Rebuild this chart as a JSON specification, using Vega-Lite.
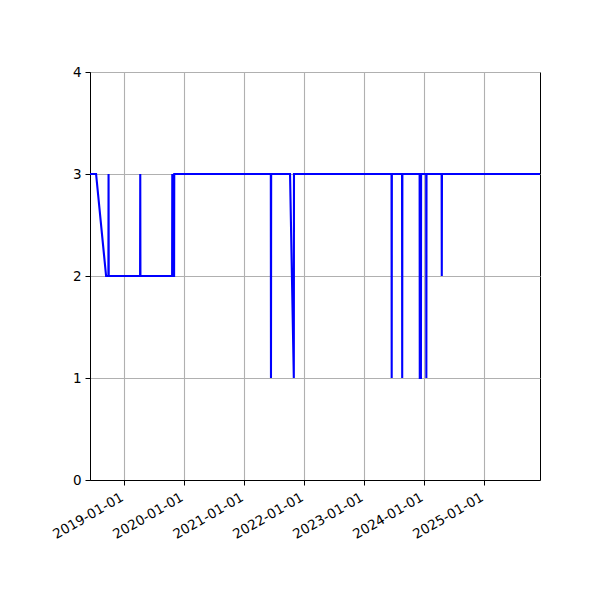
{
  "$schema": "https://vega.github.io/schema/vega-lite/v6.json",
  "autosize": "none",
  "padding": {"left": 90, "top": 72, "right": 60, "bottom": 120},
  "width": 450,
  "height": 408,
  "background": "white",
  "data": {
    "values": [
      {"date": "2018-06-06", "value": 3},
      {"date": "2018-07-13", "value": 3},
      {"date": "2018-09-12", "value": 2},
      {"date": "2018-09-26", "value": 2},
      {"date": "2018-09-27", "value": 3},
      {"date": "2018-09-28", "value": 2},
      {"date": "2019-04-07", "value": 2},
      {"date": "2019-04-08", "value": 3},
      {"date": "2019-04-09", "value": 2},
      {"date": "2019-10-19", "value": 2},
      {"date": "2019-10-20", "value": 3},
      {"date": "2019-10-21", "value": 2},
      {"date": "2019-10-31", "value": 2},
      {"date": "2019-11-01", "value": 3},
      {"date": "2021-06-11", "value": 3},
      {"date": "2021-06-12", "value": 1},
      {"date": "2021-06-13", "value": 3},
      {"date": "2021-10-06", "value": 3},
      {"date": "2021-10-29", "value": 1},
      {"date": "2021-10-30", "value": 3},
      {"date": "2023-06-16", "value": 3},
      {"date": "2023-06-17", "value": 1},
      {"date": "2023-06-18", "value": 3},
      {"date": "2023-08-19", "value": 3},
      {"date": "2023-08-20", "value": 1},
      {"date": "2023-08-21", "value": 3},
      {"date": "2023-12-04", "value": 3},
      {"date": "2023-12-05", "value": 1},
      {"date": "2023-12-12", "value": 1},
      {"date": "2023-12-13", "value": 3},
      {"date": "2024-01-13", "value": 3},
      {"date": "2024-01-14", "value": 1},
      {"date": "2024-01-15", "value": 3},
      {"date": "2024-04-16", "value": 3},
      {"date": "2024-04-17", "value": 2},
      {"date": "2024-04-18", "value": 3},
      {"date": "2025-12-06", "value": 3}
    ]
  },
  "mark": {"type": "line", "color": "#0000ff", "strokeWidth": 2.1, "clip": true},
  "encoding": {
    "x": {
      "field": "date",
      "type": "temporal",
      "title": null,
      "scale": {"type": "utc", "nice": false},
      "axis": {
        "format": "%Y-%m-%d",
        "tickCount": {"interval": "year", "step": 1},
        "labelAngle": -30,
        "labelAlign": "right",
        "labelBaseline": "top",
        "labelOffset": -6,
        "labelPadding": 5,
        "labelOverlap": false,
        "labelFlush": false
      }
    },
    "y": {
      "field": "value",
      "type": "quantitative",
      "title": null,
      "scale": {"domain": [0, 4], "nice": false, "zero": false},
      "axis": {"values": [0, 1, 2, 3, 4], "format": "d"}
    }
  },
  "config": {
    "view": {"stroke": "black", "strokeWidth": 1},
    "axis": {
      "labelFont": "DejaVu Sans",
      "labelFontSize": 13.5,
      "labelColor": "black",
      "labelPadding": 4,
      "tickColor": "black",
      "tickSize": 5,
      "tickWidth": 1,
      "domainColor": "black",
      "domainWidth": 1,
      "gridColor": "#b0b0b0",
      "gridWidth": 1.1,
      "grid": true
    }
  }
}
